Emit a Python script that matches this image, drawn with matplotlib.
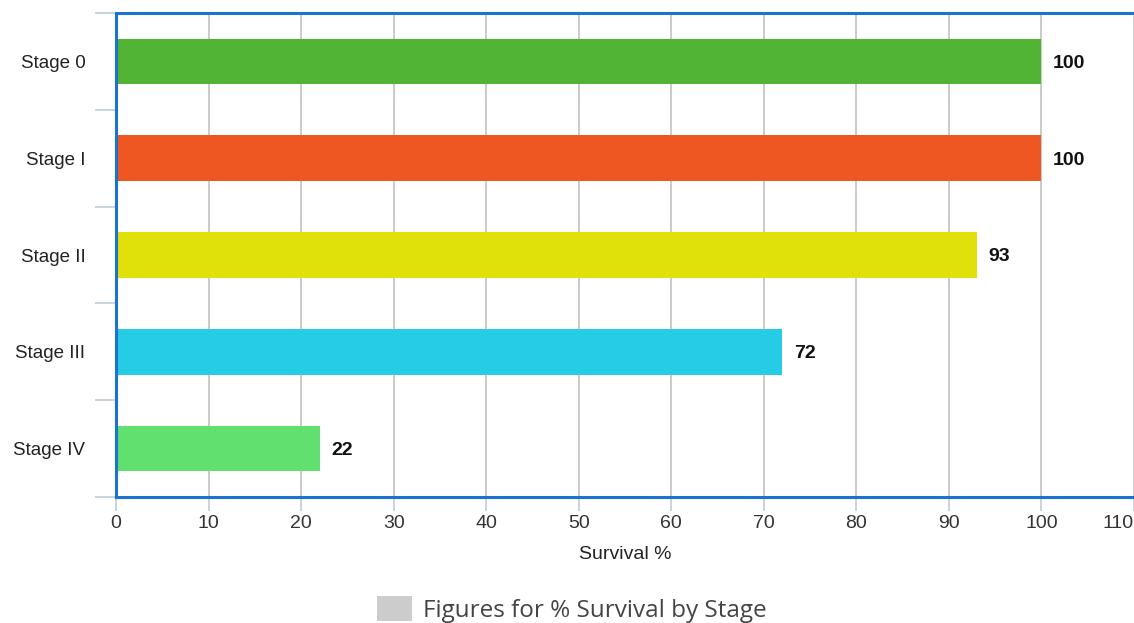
import matplotlib.pyplot as plt
from matplotlib.patches import Patch

stages = ['Stage 0', 'Stage I', 'Stage II', 'Stage III', 'Stage IV']
survival = [100, 100, 93, 72, 22]
colors = ['#52B435', '#EE5622', '#E0E00A', '#26CBE6', '#62E06F']
xticks = list(range(0, 111, 10))

plt.rcParams['font.family'] = ['Liberation Sans', 'DejaVu Sans']

fig = plt.figure(figsize=(11.34, 6.23), dpi=100)
ax = fig.add_axes([0.1023, 0.2022, 0.8977, 0.7769])

ypos = list(range(len(stages)))
ax.barh(ypos, survival, height=0.47, color=colors, zorder=2)
for y, v in zip(ypos, survival):
    ax.text(v + 1.25, y + 0.02, str(v), va='center', ha='left',
            fontsize=14, fontweight='bold', color='#111111')

ax.set_xlim(0, 110)
ax.set_ylim(len(stages) - 0.5, -0.5)
ax.set_xticks(xticks)
ax.set_yticks(ypos)
ax.set_yticklabels(stages)

# vertical grid lines, drawn past the bottom edge like tick marks
ax.grid(axis='x', color='#CACACA', linewidth=1.4, zorder=0)
ax.tick_params(axis='x', length=10, width=1.4, color='#C8D2DC',
               labelsize=14, labelcolor='#333333', pad=3)
ax.tick_params(axis='y', length=0, labelsize=13.5, labelcolor='#222222', pad=22)
# keep the last tick label inside the figure
ax.get_xticklabels()[-1].set_horizontalalignment('right')
ax.get_xticklabels()[-1].set_x(110)

# category separator ticks on the left
for b in [i - 0.5 for i in range(len(stages) + 1)]:
    ax.plot([-0.02, 0], [b, b], transform=ax.get_yaxis_transform(),
            color='#C8D2DC', linewidth=1.4, clip_on=False)

for side in ['left', 'top', 'bottom']:
    ax.spines[side].set_color('#1A73CF')
    ax.spines[side].set_linewidth(2.2)
ax.spines['right'].set_visible(False)

ax.set_xlabel('Survival %', fontsize=14, color='#222222', labelpad=10)

fig.legend(handles=[Patch(facecolor='#CCCCCC', edgecolor='none')],
           labels=['Figures for % Survival by Stage'],
           loc='lower center', bbox_to_anchor=(0.504, -0.035), frameon=False,
           prop={'family': 'Open Sans', 'size': 17.5}, handlelength=1.45,
           handleheight=1.2, handletextpad=0.45, labelcolor='#444444')

fig.savefig('out.png', dpi=100)
